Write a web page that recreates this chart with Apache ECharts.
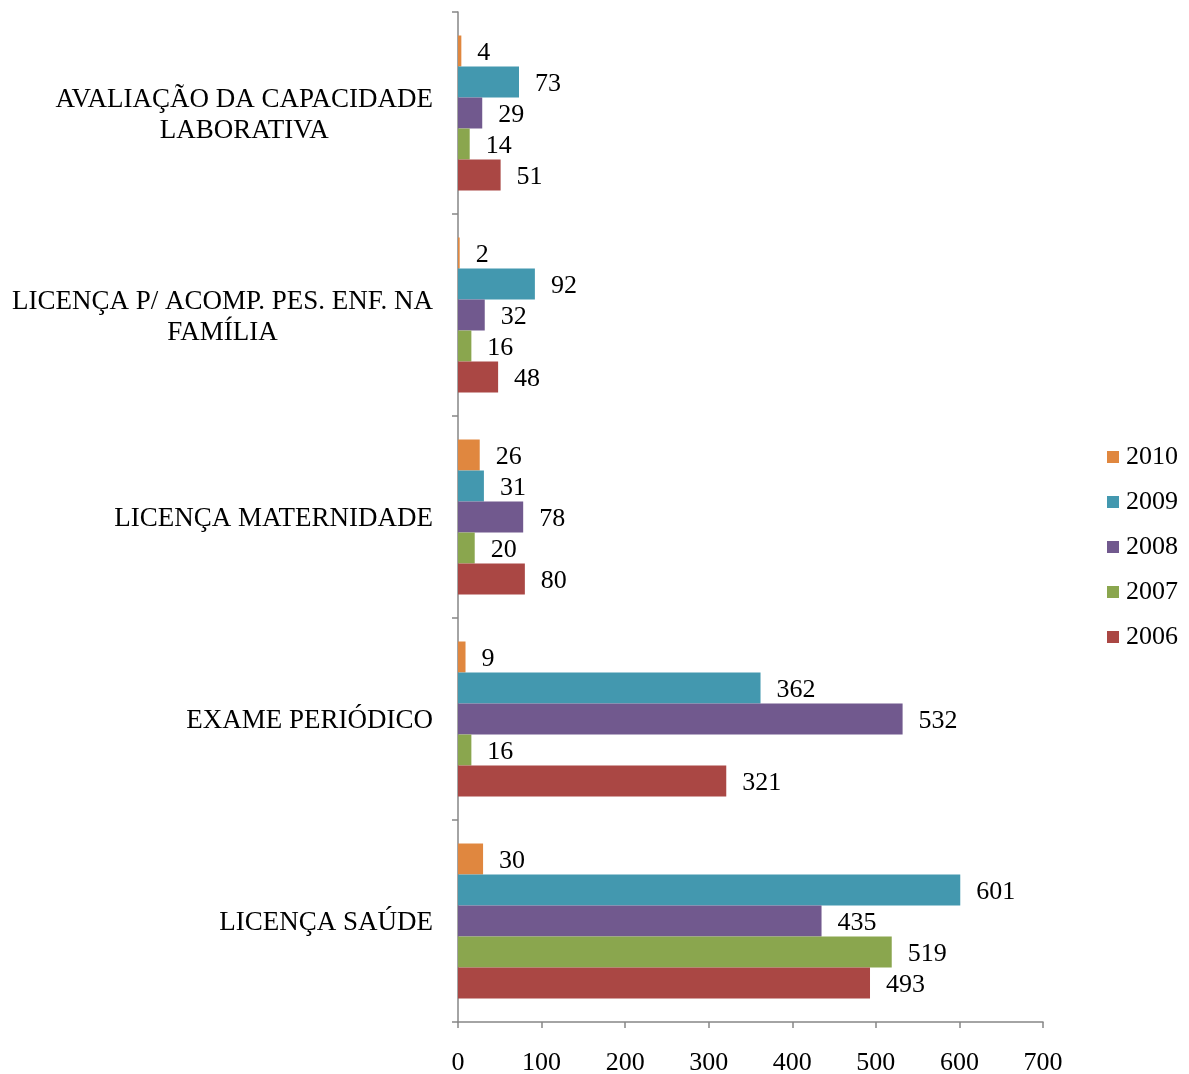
<!DOCTYPE html>
<html>
<head>
<meta charset="utf-8">
<script src="https://cdn.jsdelivr.net/npm/echarts@6/dist/echarts.min.js"></script>
<style>
  html, body { margin: 0; padding: 0; background: #ffffff; }
  #chart { width: 1189px; height: 1074px; }
</style>
</head>
<body>
<div id="chart"></div>
<script>
// Categories, bottom to top along the vertical axis
const categories = [
  'LICENÇA SAÚDE',
  'EXAME PERIÓDICO',
  'LICENÇA MATERNIDADE',
  'LICENÇA P/ ACOMP. PES. ENF. NA\nFAMÍLIA',
  'AVALIAÇÃO DA CAPACIDADE\nLABORATIVA'
];

// Values per year, same order as categories
const v2010 = [30, 9, 26, 2, 4];
const v2009 = [601, 362, 31, 92, 73];
const v2008 = [435, 532, 78, 32, 29];
const v2007 = [519, 16, 20, 16, 14];
const v2006 = [493, 321, 80, 48, 51];

const years = ['2010', '2009', '2008', '2007', '2006'];
const yearValues = [v2010, v2009, v2008, v2007, v2006];
const yearColors = ['#E0873F', '#4398AF', '#71598E', '#8AA64E', '#AA4744'];

const xTicks = [0, 100, 200, 300, 400, 500, 600, 700];

const FONT = "'Liberation Serif', 'Times New Roman', serif";
const axisGray = '#868686';

const chart = echarts.init(document.getElementById('chart'), null, { renderer: 'canvas' });

const series = years.map((y, i) => ({
  name: y,
  type: 'bar',
  data: yearValues[i],
  barWidth: 31,
  barGap: '0%',
  itemStyle: { color: yearColors[i] },
  label: {
    show: true,
    position: 'right',
    distance: 16,
    offset: [0, 2],
    color: '#000',
    fontFamily: FONT,
    fontSize: 26
  }
}));

chart.setOption({
  animation: false,
  textStyle: { fontFamily: FONT },
  grid: { left: 458, right: 146, top: 12, bottom: 52, containLabel: false, outerBoundsMode: 'none' },
  legend: {
    data: years,
    orient: 'vertical',
    left: 1102,
    top: 439,
    itemWidth: 12,
    itemHeight: 12,
    itemGap: 19,
    icon: 'rect',
    textStyle: { fontFamily: FONT, fontSize: 26, color: '#000', lineHeight: 26, padding: [0, 0, 0, 2] }
  },
  xAxis: {
    type: 'value',
    min: xTicks[0],
    max: xTicks[xTicks.length - 1],
    interval: 100,
    splitLine: { show: false },
    axisLine: { show: true, lineStyle: { color: axisGray, width: 1.5 } },
    axisTick: { show: true, length: 6, inside: false, lineStyle: { color: axisGray, width: 1.5 } },
    axisLabel: { color: '#000', fontFamily: FONT, fontSize: 26, margin: 28 }
  },
  yAxis: {
    type: 'category',
    data: categories,
    axisLine: { show: true, lineStyle: { color: axisGray, width: 1.5 } },
    axisTick: { show: true, length: 6, alignWithLabel: false, lineStyle: { color: axisGray, width: 1.5 } },
    axisLabel: {
      color: '#000',
      margin: 25,
      padding: [4, 0, 0, 0],
      formatter: (val) => val.split('\n').map(s => '{c|' + s + '}').join('\n'),
      rich: {
        c: { align: 'center', fontFamily: FONT, fontSize: 27, lineHeight: 31, color: '#000' }
      }
    }
  },
  series: series
});
</script>
</body>
</html>
